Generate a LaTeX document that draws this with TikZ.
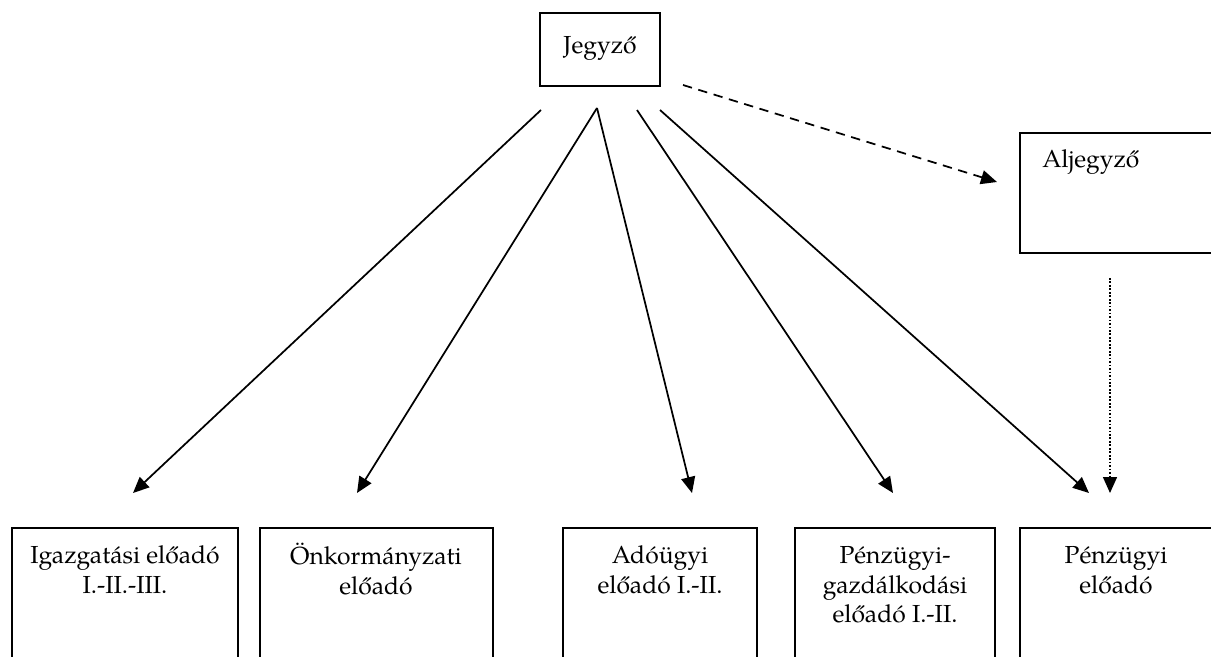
\documentclass[tikz,border=0pt]{standalone}
\usepackage{fontspec}
\setmainfont{TeX Gyre Pagella}
\usetikzlibrary{arrows.meta,fit}
\begin{document}
\begin{tikzpicture}[x=0.75pt,y=-0.75pt,
  box/.style={draw, line width=1.6pt, inner sep=0pt},
  lbl/.style={font=\fontsize{18.5}{22}\selectfont, align=center, inner sep=0pt},
  arr/.style={line width=1.3pt, -{Triangle[length=12pt,width=10.5pt]}},
]
\useasboundingbox (0,0) rectangle (1211,657);
\clip (0,0) rectangle (1211,657);
\fill[white] (0,0) rectangle (1211,657);

% boxes
\node[box, fit={(540,13) (660,86)}] (jegyzo) {};
\node[box, fit={(1020,133) (1216,253)}] (aljegyzo) {};
\node[box, fit={(12,528) (238,690)}] (b1) {};
\node[box, fit={(260,528) (493,690)}] (b2) {};
\node[box, fit={(563,528) (757,690)}] (b3) {};
\node[box, fit={(795,528) (995,690)}] (b4) {};
\node[box, fit={(1020,528) (1216,690)}] (b5) {};

% texts
\node[lbl, anchor=base] (tj) at (600,53) {Jegyző};
\node[lbl, anchor=base west] (ta) at (1042,167) {Aljegyző};
\node[lbl, anchor=north] (t1) at (125,543) {\strut Igazgatási előadó\\I.-II.-III.};
\node[lbl, anchor=north] (t2) at (376,543) {\strut Önkormányzati\\előadó};
\node[lbl, anchor=north] (t3) at (660,543) {\strut Adóügyi\\előadó I.-II.};
\node[lbl, anchor=north] (t4) at (895,543) {\strut Pénzügyi-\\gazdálkodási\\előadó I.-II.};
\node[lbl, anchor=north] (t5) at (1116,543) {\strut Pénzügyi\\előadó};

% connector ends
\coordinate (s1) at (541,110);
\coordinate (s2) at (597,108);
\coordinate (s4) at (637,110);
\coordinate (s5) at (660,110);
\coordinate (sd) at (683,85);
\coordinate (sv) at (1110,278);
\coordinate (e1) at (133,493);
\coordinate (e2) at (357,493);
\coordinate (e3) at (692,493);
\coordinate (e4) at (893,493);
\coordinate (e5) at (1089,493);
\coordinate (ed) at (997,182);
\coordinate (ev) at (1110,493);

\draw[arr] (s1) -- (e1);
\draw[arr] (s2) -- (e2);
\draw[arr] (s2) -- (e3);
\draw[arr] (s4) -- (e4);
\draw[arr] (s5) -- (e5);
\draw[arr, dash pattern=on 7pt off 5pt] (sd) -- (ed);
\draw[arr, line width=1.1pt, dash pattern=on 1.3pt off 1.3pt] (sv) -- (ev);
\end{tikzpicture}
\end{document}
